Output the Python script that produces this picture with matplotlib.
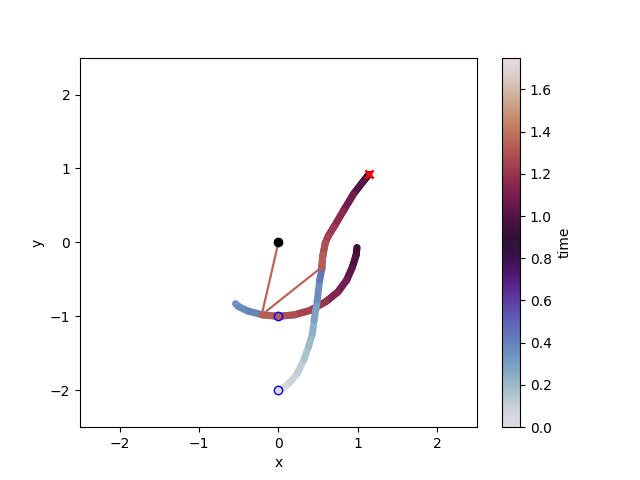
import matplotlib
matplotlib.use("Agg")
import matplotlib.pyplot as plt
import numpy as np
from matplotlib.collections import LineCollection
from matplotlib.colors import Normalize

# time range shown on the colour bar
t_min, t_max = 0.0, 1.75

# inner bob (mass 1) path
x1 = [0.00, -0.20, -0.38, -0.50, -0.54, -0.50, -0.38, -0.20, 0.00, 0.20, 0.40,
      0.60, 0.75, 0.86, 0.93, 0.98, 0.99, 0.98, 0.93, 0.86, 0.75, 0.60, 0.40,
      0.20, 0.00, -0.21]
y1 = [-1.00, -0.98, -0.93, -0.87, -0.83, -0.87, -0.93, -0.98, -1.00, -0.98, -0.92,
      -0.80, -0.67, -0.51, -0.34, -0.17, -0.07, -0.17, -0.34, -0.51, -0.67, -0.80, -0.92,
      -0.98, -1.00, -0.98]
t1 = [0.00, 0.08, 0.16, 0.24, 0.32, 0.35, 0.38, 0.41, 0.45, 0.50, 0.56,
      0.63, 0.70, 0.77, 0.83, 0.88, 0.92, 0.96, 1.01, 1.06, 1.11, 1.17, 1.23,
      1.28, 1.32, 1.36]

# outer bob (mass 2) path
x2 = [0.00, 0.05, 0.15, 0.24, 0.32, 0.38, 0.43, 0.45, 0.49, 0.52, 0.55, 0.56,
      0.59, 0.63, 0.70, 0.82, 0.95, 1.08, 1.14,
      1.08, 0.95, 0.82, 0.70, 0.63, 0.59, 0.56, 0.54]
y2 = [-2.00, -1.98, -1.89, -1.77, -1.59, -1.41, -1.23, -1.05, -0.78, -0.51, -0.35, -0.18,
      -0.01, 0.09, 0.21, 0.43, 0.66, 0.84, 0.92,
      0.84, 0.66, 0.43, 0.21, 0.09, -0.01, -0.18, -0.34]
t2 = [0.00, 0.02, 0.06, 0.10, 0.14, 0.18, 0.22, 0.26, 0.32, 0.40, 0.46, 0.50,
      0.55, 0.58, 0.62, 0.70, 0.78, 0.86, 0.92,
      0.97, 1.04, 1.12, 1.20, 1.24, 1.27, 1.32, 1.36]

# marked positions
start1 = (0.0, -1.0)
start2 = (0.0, -2.0)
pivot = (0.0, 0.0)
peak2 = (1.14, 0.92)

norm = Normalize(vmin=t_min, vmax=t_max)
cmap = plt.get_cmap("twilight")


def path_collection(x, y, t):
    pts = np.column_stack((x, y)).reshape(-1, 1, 2)
    segs = np.concatenate([pts[:-1], pts[1:]], axis=1)
    t = np.asarray(t)
    lc = LineCollection(segs, cmap=cmap, norm=norm, linewidths=5,
                        capstyle="round", joinstyle="round", zorder=2)
    lc.set_array((t[:-1] + t[1:]) / 2)
    return lc


fig, ax = plt.subplots(figsize=(6.4, 4.8), dpi=100)

# rods at the last time step
rod_color = cmap(norm(t1[-1]))
ax.plot([pivot[0], x1[-1]], [pivot[1], y1[-1]], color=rod_color, lw=1.6, zorder=1)
ax.plot([x1[-1], x2[-1]], [y1[-1], y2[-1]], color=rod_color, lw=1.6, zorder=1)

lc1 = path_collection(x1, y1, t1)
lc2 = path_collection(x2, y2, t2)
ax.add_collection(lc1)
ax.add_collection(lc2)

ax.plot(*pivot, "o", color="black", ms=6, zorder=4)
ax.plot(*start1, "o", mfc="none", mec="blue", ms=6, zorder=4)
ax.plot(*start2, "o", mfc="none", mec="blue", ms=6, zorder=4)
ax.plot(*peak2, "x", color="red", ms=6, mew=2, zorder=4)

ax.set_xlim(-2.5, 2.5)
ax.set_ylim(-2.5, 2.5)
ax.set_xlabel("x")
ax.set_ylabel("y")

cbar = fig.colorbar(lc2, ax=ax)
cbar.set_label("time")

fig.savefig("out.png")
